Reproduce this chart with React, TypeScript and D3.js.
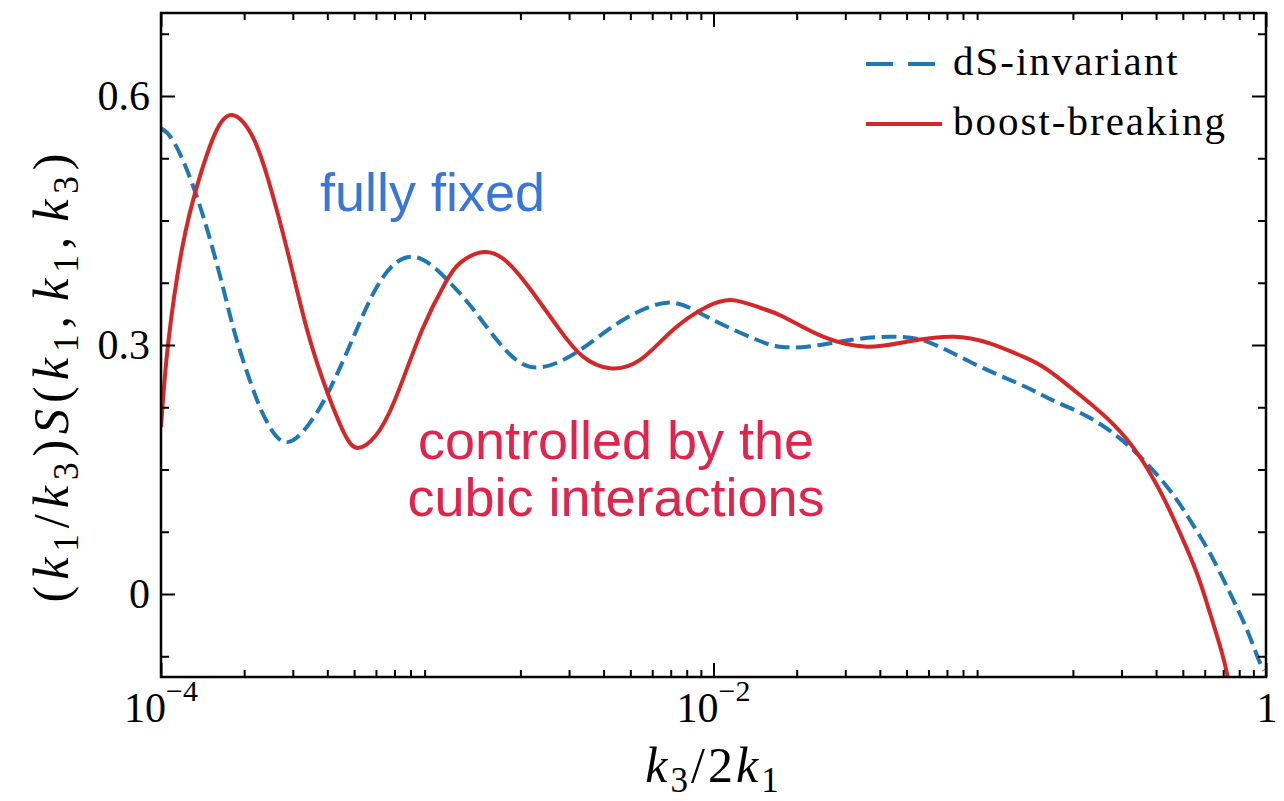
import React, { useEffect, useRef } from 'react';
import * as d3 from 'd3';

// dS-invariant (dashed blue)
const dsX = [1.0e-4, 1.12e-4, 1.36e-4, 1.66e-4, 1.88e-4, 2.19e-4, 2.44e-4, 2.88e-4, 3.61e-4, 4.27e-4, 5.04e-4, 6.31e-4, 8.3e-4,
  1.09e-3, 1.35e-3, 1.79e-3, 2.36e-3, 3.29e-3, 4.59e-3, 6.79e-3, 9.46e-3, 1.44e-2, 1.74e-2, 2.18e-2, 3.12e-2, 4.36e-2,
  5.93e-2, 8.69e-2, 0.126, 0.152, 0.175, 0.231, 0.322, 0.439, 0.531, 0.627, 0.741, 0.853, 0.935, 0.984];
const dsY = [0.561, 0.543, 0.475, 0.375, 0.306, 0.24, 0.205, 0.183, 0.215, 0.26, 0.314, 0.38, 0.406,
  0.378, 0.343, 0.292, 0.273, 0.294, 0.328, 0.351, 0.334, 0.306, 0.298, 0.298, 0.306, 0.31,
  0.304, 0.278, 0.254, 0.241, 0.231, 0.212, 0.177, 0.129, 0.089, 0.049, 0.001, -0.043, -0.077, -0.092];

// boost-breaking (solid red)
const bbX = [1.0e-4, 1.06e-4, 1.19e-4, 1.36e-4, 1.57e-4, 1.81e-4, 2.13e-4, 2.44e-4, 2.88e-4, 3.4e-4, 4.03e-4, 4.63e-4, 5.16e-4,
  5.96e-4, 7.03e-4, 8.81e-4, 1.07e-3, 1.21e-3, 1.47e-3, 1.79e-3, 2.22e-3, 2.78e-3, 3.37e-3, 4.22e-3, 5.42e-3, 7.13e-3,
  9.46e-3, 1.18e-2, 1.47e-2, 1.79e-2, 2.49e-2, 3.6e-2, 5.01e-2, 7.36e-2, 0.1, 0.132, 0.152, 0.175, 0.217, 0.279, 0.35,
  0.424, 0.489, 0.562, 0.627, 0.693, 0.728];
const bbY = [0.201, 0.3, 0.415, 0.495, 0.555, 0.577, 0.553, 0.5, 0.411, 0.315, 0.24, 0.192, 0.176,
  0.19, 0.234, 0.318, 0.375, 0.399, 0.412, 0.4, 0.363, 0.318, 0.286, 0.272, 0.282, 0.318,
  0.346, 0.354, 0.345, 0.334, 0.31, 0.298, 0.304, 0.31, 0.302, 0.286, 0.276, 0.262, 0.237, 0.205, 0.165,
  0.117, 0.073, 0.025, -0.023, -0.071, -0.101];

const yMajorTicks = [0, 0.3, 0.6];
const yTickLabels = ['0', '0.3', '0.6'];
const yMinorTicks = [-0.075, 0.075, 0.15, 0.225, 0.375, 0.45, 0.525, 0.675];
const xMajorTicks = [1e-4, 1e-2, 1];
const xTickBase = ['10', '10', '1'];
const xTickExp = ['\u22124', '\u22122', ''];
const legendLabels = ['dS-invariant', 'boost-breaking'];

const W = 1284;
const H = 801;
const margin = { top: 13, right: 18, bottom: 124, left: 161 };
const BLUE = '#1f77b4';
const RED = '#d62728';
const SERIF = '"Liberation Serif", "Times New Roman", serif';
const SANS = '"Liberation Sans", Arial, sans-serif';

const App: React.FC = () => {
  const ref = useRef<SVGSVGElement | null>(null);

  useEffect(() => {
    if (!ref.current) return;
    const svg = d3.select(ref.current);
    svg.selectAll('*').remove();

    const x = d3.scaleLog().domain([1e-4, 1]).range([margin.left, W - margin.right]);
    const y = d3.scaleLinear().domain([-0.1, 0.7]).range([H - margin.bottom, margin.top]);
    const [x0, x1] = x.range();
    const [y0, y1] = y.range();

    // minor log ticks: 2..9 in every decade (the skipped decades get no tick)
    const xMinorTicks: number[] = [];
    [1e-4, 1e-3, 1e-2, 1e-1].forEach((d) => {
      d3.range(2, 10).forEach((m) => xMinorTicks.push(m * d));
    });

    svg.append('rect').attr('width', W).attr('height', H).attr('fill', '#fff');

    svg.append('defs').append('clipPath').attr('id', 'plot-clip')
      .append('rect')
      .attr('x', x0).attr('y', y1)
      .attr('width', x1 - x0).attr('height', y0 - y1);

    // curves
    const line = d3.line<number[]>()
      .x((d) => x(d[0]))
      .y((d) => y(d[1]))
      .curve(d3.curveNatural);

    const curves = svg.append('g').attr('clip-path', 'url(#plot-clip)');
    curves.append('path')
      .datum(d3.zip(dsX, dsY))
      .attr('fill', 'none')
      .attr('stroke', BLUE)
      .attr('stroke-width', 4)
      .attr('stroke-dasharray', '15,6.5')
      .attr('d', line);
    curves.append('path')
      .datum(d3.zip(bbX, bbY))
      .attr('fill', 'none')
      .attr('stroke', RED)
      .attr('stroke-width', 4)
      .attr('d', line);

    // ticks, all pointing inward on the four sides
    const tickGroup = (axis: any, transform: string) => {
      svg.append('g')
        .attr('transform', transform)
        .call(axis.tickFormat(() => '').tickSizeOuter(0))
        .call((g: any) => g.select('.domain').remove())
        .call((g: any) => g.selectAll('line').attr('stroke', '#000').attr('stroke-width', 2));
    };
    tickGroup(d3.axisBottom(x).tickValues(xMajorTicks).tickSizeInner(-14), `translate(0,${y0})`);
    tickGroup(d3.axisBottom(x).tickValues(xMinorTicks).tickSizeInner(-7), `translate(0,${y0})`);
    tickGroup(d3.axisTop(x).tickValues(xMajorTicks).tickSizeInner(-14), `translate(0,${y1})`);
    tickGroup(d3.axisTop(x).tickValues(xMinorTicks).tickSizeInner(-7), `translate(0,${y1})`);
    tickGroup(d3.axisLeft(y).tickValues(yMajorTicks).tickSizeInner(-14), `translate(${x0},0)`);
    tickGroup(d3.axisLeft(y).tickValues(yMinorTicks).tickSizeInner(-8), `translate(${x0},0)`);
    tickGroup(d3.axisRight(y).tickValues(yMajorTicks).tickSizeInner(-14), `translate(${x1},0)`);
    tickGroup(d3.axisRight(y).tickValues(yMinorTicks).tickSizeInner(-8), `translate(${x1},0)`);

    // frame
    svg.append('rect')
      .attr('x', x0).attr('y', y1)
      .attr('width', x1 - x0).attr('height', y0 - y1)
      .attr('fill', 'none')
      .attr('stroke', '#000')
      .attr('stroke-width', 2.5);

    // y tick labels
    svg.append('g')
      .selectAll('text')
      .data(yMajorTicks)
      .enter()
      .append('text')
      .attr('x', x0 - 11)
      .attr('y', (d) => y(d) + 14)
      .attr('text-anchor', 'end')
      .attr('font-family', SERIF)
      .attr('font-size', 42)
      .text((_, i) => yTickLabels[i]);

    // x tick labels with superscript exponent
    xMajorTicks.forEach((v, i) => {
      const t = svg.append('text')
        .attr('x', x(v) + (i === 2 ? 1 : 0))
        .attr('y', 722)
        .attr('text-anchor', 'middle')
        .attr('font-family', SERIF)
        .attr('font-size', 42);
      t.append('tspan').text(xTickBase[i]);
      if (xTickExp[i]) {
        t.append('tspan').attr('dy', -21).attr('font-size', 30).text(xTickExp[i]);
      }
    });

    // math-style label helper: [text, italic, sub, extra dx]
    const mathText = (g: any, parts: [string, boolean, boolean, number?][], size: number) => {
      let shifted = false;
      parts.forEach(([s, it, sub, dx]) => {
        const ts = g.append('tspan').text(s);
        if (it) ts.attr('font-style', 'italic');
        if (dx) ts.attr('dx', dx);
        if (sub) {
          ts.attr('font-size', size * 0.7);
          if (!shifted) { ts.attr('dy', size * 0.2); shifted = true; }
        } else if (shifted) {
          ts.attr('dy', -size * 0.2);
          shifted = false;
        }
      });
    };

    // x axis label
    const xl = svg.append('text')
      .attr('x', (x0 + x1) / 2)
      .attr('y', 782)
      .attr('text-anchor', 'middle')
      .attr('font-family', SERIF)
      .attr('font-size', 50)
      .attr('letter-spacing', 3);
    mathText(xl, [['k', true, false], ['3', false, true], ['/2', false, false], ['k', true, false], ['1', false, true]], 50);

    // y axis label
    const yl = svg.append('text')
      .attr('transform', `translate(68,${(y0 + y1) / 2 + 30}) rotate(-90)`)
      .attr('text-anchor', 'middle')
      .attr('font-family', SERIF)
      .attr('font-size', 50)
      .attr('letter-spacing', 6);
    mathText(yl, [
      ['(', false, false], ['k', true, false], ['1', false, true], ['/', false, false], ['k', true, false], ['3', false, true],
      [')', false, false], ['S', true, false], ['(', false, false], ['k', true, false], ['1', false, true], [',', false, false],
      ['k', true, false, 9], ['1', false, true], [',', false, false], ['k', true, false, 9], ['3', false, true], [')', false, false],
    ], 50);

    // legend
    const legend = svg.append('g');
    [BLUE, RED].forEach((c, i) => {
      const ly = 64 + i * 60;
      legend.append('line')
        .attr('x1', 866).attr('x2', 942)
        .attr('y1', ly).attr('y2', ly)
        .attr('stroke', c)
        .attr('stroke-width', 4)
        .attr('stroke-dasharray', i === 0 ? '27,15' : null);
      legend.append('text')
        .attr('x', 953)
        .attr('y', ly + 11)
        .attr('font-family', SERIF)
        .attr('font-size', 41)
        .attr('letter-spacing', 2)
        .text(legendLabels[i]);
    });

    // annotations
    svg.append('text')
      .attr('x', 320).attr('y', 211)
      .attr('font-family', SANS)
      .attr('font-size', 54)
      .attr('fill', '#3a76d8')
      .text('fully fixed');
    svg.append('text')
      .attr('x', 616).attr('y', 459)
      .attr('text-anchor', 'middle')
      .attr('font-family', SANS)
      .attr('font-size', 54)
      .attr('fill', '#e0244c')
      .text('controlled by the');
    svg.append('text')
      .attr('x', 616).attr('y', 516)
      .attr('text-anchor', 'middle')
      .attr('font-family', SANS)
      .attr('font-size', 54)
      .attr('fill', '#e0244c')
      .text('cubic interactions');
  }, []);

  return (
    <svg
      ref={ref}
      width={W}
      height={H}
      style={{ position: 'absolute', left: 0, top: 0, display: 'block' }}
    />
  );
};

export default App;
